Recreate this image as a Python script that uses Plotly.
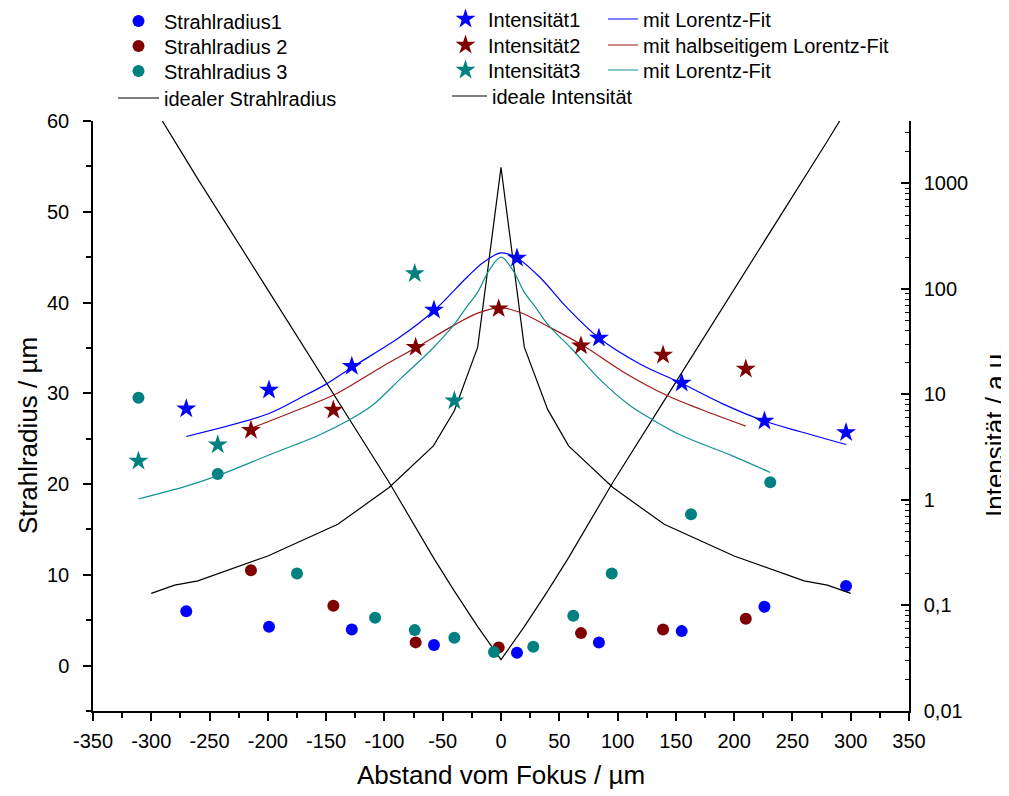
import plotly.graph_objects as go

# ---------------- data ----------------
# Strahlradius / Intensität series 1
R1_X = [-270, -199, -128, -57.5, 13.7, 84, 155, 226, 296]
R1_Y = [5.98, 4.28, 3.99, 2.26, 1.41, 2.55, 3.80, 6.49, 8.77]
I1_Y = [7.3, 11.0, 18.5, 63, 196, 34.2, 12.8, 5.6, 4.35]

# series 2
R2_X = [-214.5, -143.8, -73.2, -2, 68.6, 139, 210]
R2_Y = [10.5, 6.6, 2.56, 2.0, 3.58, 3.99, 5.16]
I2_Y = [4.58, 7.1, 27.9, 64.9, 28.9, 23.6, 17.4]

# series 3
R3_X = [-311, -243, -175, -108, -74, -40, -6, 27.7, 62, 95, 163, 231]
R3_Y = [29.5, 21.1, 10.16, 5.27, 3.91, 3.07, 1.49, 2.07, 5.49, 10.16, 16.67, 20.2]
I3_X = [-311, -243, -74, -40]
I3_Y = [2.34, 3.33, 140, 8.7]

# Lorentz fit curves
FIT1_X = [-270, -199, -172, -150, -128, -87, -57.5, -29.4, -15.2, 0, 12.9, 33.5,
          56.4, 84.1, 119.2, 154.4, 190.7, 225.5, 257, 296.2]
FIT1_Y = [3.99, 6.59, 9.3, 12.5, 18.0, 34.7, 62, 128, 178, 219, 199, 128,
          66.7, 34.2, 19.4, 12.8, 8.09, 5.62, 4.42, 3.35]

FIT2_X = [-212.5, -172.4, -143.9, -129.5, -101, -72.3, -40.9, -20, 0, 16, 42,
          70.6, 107.8, 142, 170.7, 209.9]
FIT2_Y = [4.85, 7.26, 9.8, 12.0, 18.6, 27.9, 44.8, 58.9, 66, 60, 43.1,
          28.9, 15.6, 9.8, 7.26, 5.0]

FIT3_X = [-311, -270, -243, -198, -155, -130, -110, -85, -60, -41, -30, -20, -10, 0,
          10, 20, 30, 41, 60, 85, 110, 130, 155, 198, 231]
FIT3_Y = [1.02, 1.35, 1.70, 2.69, 4.17, 5.75, 7.94, 14.5, 26.3, 44.7, 66, 93, 151, 200,
          151, 93, 66, 44.7, 27.5, 13.8, 7.94, 5.75, 4.07, 2.63, 1.82]

# ideal curves
IDEAL_X = [-300, -280, -260, -200, -140, -96, -58, -40, -20, 0,
           20, 40, 58, 96, 140, 200, 260, 280, 300]
IDEAL_R = [62.0, 57.8, 53.6, 41.4, 29.2, 20.2, 11.9, 8.2, 4.3, 0.65,
           4.3, 8.2, 11.9, 20.2, 29.2, 41.4, 53.6, 57.8, 62.0]
IDEAL_I = [0.130, 0.156, 0.171, 0.294, 0.587, 1.31, 3.25, 7.0, 28, 1413,
           28, 7.2, 3.25, 1.31, 0.587, 0.294, 0.171, 0.156, 0.130]

X_TICKS = [-350, -300, -250, -200, -150, -100, -50, 0, 50, 100, 150, 200, 250, 300, 350]
X_TICKTEXT = ["-350", "-300", "-250", "-200", "-150", "-100", "-50", "0",
              "50", "100", "150", "200", "250", "300", "350"]
Y_TICKS = [0, 10, 20, 30, 40, 50, 60]
Y2_TICKS = [0.01, 0.1, 1, 10, 100, 1000]
Y2_TICKTEXT = ["0,01", "0,1", "1", "10", "100", "1000"]

# ---------------- styling ----------------
BLUE = "#0000FF"
RED = "#800000"
TEAL = "#008080"
FONT = "Liberation Sans, Arial, sans-serif"
OFF = 8                      # default page body margin
W, H = 1009 - OFF, 796 - OFF

fig = go.Figure()

def mk(x, y, name, color, symbol, size, yaxis, legend):
    fig.add_trace(go.Scatter(x=x, y=y, name=name, mode="markers", yaxis=yaxis,
                             marker=dict(color=color, symbol=symbol, size=size,
                                         line=dict(width=0)),
                             legend=legend))

def ln(x, y, name, color, yaxis, legend, width=1.2, shape="linear"):
    fig.add_trace(go.Scatter(x=x, y=y, name=name, mode="lines", yaxis=yaxis,
                             line=dict(color=color, width=width, shape=shape,
                                       smoothing=1.0 if shape == "spline" else None),
                             legend=legend))

# lines first (below markers)
ln(IDEAL_X, IDEAL_R, "idealer Strahlradius", "black", "y", "legend4")
ln(IDEAL_X, IDEAL_I, "ideale Intensität", "black", "y2", "legend8")
ln(FIT1_X, FIT1_Y, "mit Lorentz-Fit", BLUE, "y2", "legend9", shape="spline")
ln(FIT2_X, FIT2_Y, "mit halbseitigem Lorentz-Fit", "#A01818", "y2", "legend10", shape="spline")
ln(FIT3_X, FIT3_Y, "mit Lorentz-Fit", "#129090", "y2", "legend11", shape="spline")

mk(R1_X, R1_Y, "Strahlradius1", BLUE, "circle", 12, "y", "legend")
mk(R2_X, R2_Y, "Strahlradius 2", RED, "circle", 12, "y", "legend2")
mk(R3_X, R3_Y, "Strahlradius 3", TEAL, "circle", 12, "y", "legend3")
mk(R1_X, I1_Y, "Intensität1", BLUE, "star", 15, "y2", "legend5")
mk(R2_X, I2_Y, "Intensität2", RED, "star", 15, "y2", "legend6")
mk(I3_X, I3_Y, "Intensität3", TEAL, "star", 15, "y2", "legend7")

# plot area in screen pixels: x 93..909, y 121..711
PX0, PX1, PY0, PY1 = 93, 909, 121, 711

def lg(px, py, itemwidth):
    return dict(x=(px - OFF) / W, y=1 - (py - OFF) / H, xref="container", yref="container",
                xanchor="left", yanchor="middle", bgcolor="rgba(0,0,0,0)",
                borderwidth=0, itemwidth=itemwidth,
                font=dict(family=FONT, size=20, color="black"))

legends = {
    "legend": lg(113, 21, 41),
    "legend2": lg(113, 46, 41),
    "legend3": lg(113, 71, 41),
    "legend4": lg(113, 98, 41),
    "legend5": lg(443, 19, 35),
    "legend6": lg(443, 45, 35),
    "legend7": lg(443, 70, 35),
    "legend8": lg(447, 96, 35),
    "legend9": lg(603, 19, 30),
    "legend10": lg(603, 45, 30),
    "legend11": lg(603, 70, 30),
}

axis_common = dict(showline=True, linecolor="black", linewidth=1.5, showgrid=False,
                   zeroline=False, tickcolor="black", tickwidth=1.5, automargin=False,
                   tickfont=dict(family=FONT, size=20, color="black"))

minor_y2 = [m * 10 ** e for e in range(-2, 4) for m in range(2, 10)]

def ann(text, px, py, angle=0):
    return dict(text=text, xref="paper", yref="paper",
                x=(px - PX0) / (PX1 - PX0), y=(PY1 - py) / (PY1 - PY0),
                xanchor="center", yanchor="middle", textangle=angle,
                showarrow=False, font=dict(family=FONT, size=26, color="black"))

fig.update_layout(
    width=W, height=H, autosize=False,
    margin=dict(l=PX0 - OFF, r=1009 - PX1, t=PY0 - OFF, b=796 - PY1, pad=0,
                autoexpand=False),
    paper_bgcolor="white", plot_bgcolor="white",
    font=dict(family=FONT, size=20, color="black"),
    showlegend=True,
    xaxis=dict(range=[-350, 350], tickmode="array", tickvals=X_TICKS, ticktext=X_TICKTEXT,
               ticks="outside", ticklen=8, ticklabelstandoff=3,
               minor=dict(dtick=25, tick0=0, ticks="outside", ticklen=5,
                          tickcolor="black", tickwidth=1.5),
               **axis_common),
    yaxis=dict(range=[-5, 60], tickmode="array", tickvals=Y_TICKS,
               ticks="outside", ticklen=8, ticklabelstandoff=10,
               minor=dict(dtick=5, tick0=0, ticks="outside", ticklen=5,
                          tickcolor="black", tickwidth=1.5),
               **axis_common),
    yaxis2=dict(type="log", range=[-2, 3.59], overlaying="y", side="right", anchor="x",
                tickmode="array", tickvals=Y2_TICKS, ticktext=Y2_TICKTEXT,
                ticks="inside", ticklen=8, ticklabelstandoff=9,
                minor=dict(tickmode="array", tickvals=minor_y2, ticks="inside", ticklen=4,
                           tickcolor="black", tickwidth=1.2),
                **axis_common),
    annotations=[
        ann("Abstand vom Fokus / µm", 501, 775),
        ann("Strahlradius / µm", 28, 436, -90),
        ann("Intensität / a.u.", 995, 432, -90),
    ],
    **legends,
)

fig.write_html("out.html")
